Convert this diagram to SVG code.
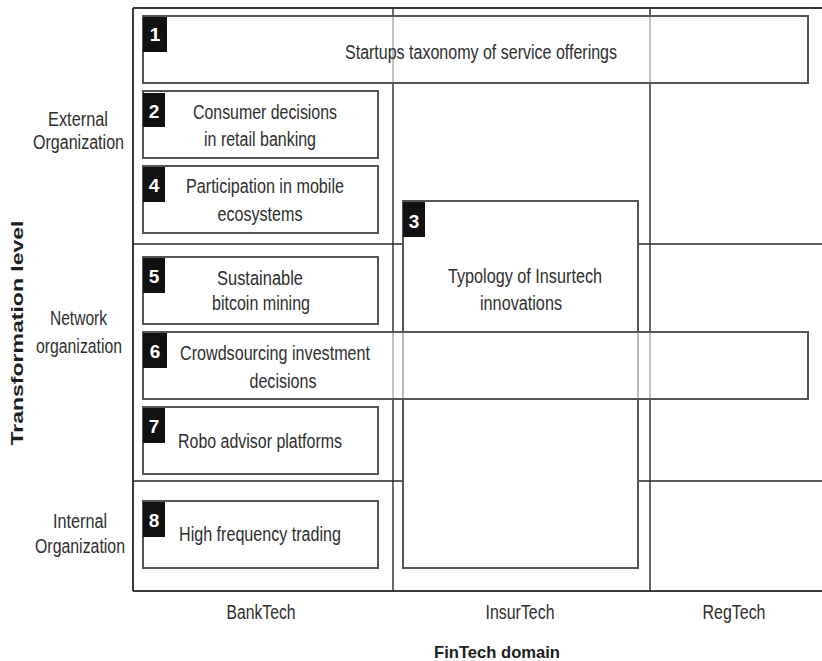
<svg xmlns="http://www.w3.org/2000/svg" width="822" height="661" viewBox="0 0 822 661">
  <style>
    .grid { fill: none; stroke: #2a2a2a; stroke-width: 1.4; }
    .frame { fill: none; stroke: #3a3a3a; stroke-width: 2; }
    .box { fill: #ffffff; fill-opacity: 0.6; stroke: #555555; stroke-width: 2; }
    .solid { fill-opacity: 1; }
    .tag { fill: #111111; }
    .num { font-family: "Liberation Sans Narrow", "Liberation Sans", Arial, sans-serif; font-weight: bold; font-size: 19px; fill: #ffffff; text-anchor: middle; }
    .t { font-family: "Liberation Sans Narrow", "Liberation Sans", Arial, sans-serif; font-size: 20px; fill: #2e2e2e; text-anchor: middle; }
    .axis { font-family: "Liberation Sans", Arial, sans-serif; font-weight: bold; font-size: 17px; fill: #1e1e1e; text-anchor: middle; }
  </style>

  <rect x="0" y="0" width="822" height="661" fill="#ffffff"/>

  <!-- matrix grid -->
  <g id="grid">
    <path class="frame" d="M133,8 H823 M133,8 V591 M133,591 H823"/>
    <path class="grid" d="M393,8 V591 M650,8 V591 M133,244 H823 M133,481 H823"/>
  </g>

  <!-- row labels -->
  <g id="row-labels">
    <text class="t" x="78" y="126" textLength="60" lengthAdjust="spacingAndGlyphs">External</text>
    <text class="t" x="78.5" y="149" textLength="91" lengthAdjust="spacingAndGlyphs">Organization</text>
    <text class="t" x="78.5" y="325" textLength="57" lengthAdjust="spacingAndGlyphs">Network</text>
    <text class="t" x="79" y="353" textLength="86" lengthAdjust="spacingAndGlyphs">organization</text>
    <text class="t" x="80" y="528" textLength="54" lengthAdjust="spacingAndGlyphs">Internal</text>
    <text class="t" x="80" y="553" textLength="90" lengthAdjust="spacingAndGlyphs">Organization</text>
    <text class="axis" transform="translate(23,333) rotate(-90)" textLength="225" lengthAdjust="spacingAndGlyphs">Transformation level</text>
  </g>

  <!-- column labels -->
  <g id="col-labels">
    <text class="t" x="261" y="619" textLength="69" lengthAdjust="spacingAndGlyphs">BankTech</text>
    <text class="t" x="520" y="619" textLength="69" lengthAdjust="spacingAndGlyphs">InsurTech</text>
    <text class="t" x="734" y="619" textLength="63" lengthAdjust="spacingAndGlyphs">RegTech</text>
    <text class="axis" x="497" y="658" textLength="126" lengthAdjust="spacingAndGlyphs">FinTech domain</text>
  </g>

  <!-- 3: spans BankTech rows, InsurTech column -->
  <g id="node-3">
    <rect class="box solid" x="403" y="201" width="235" height="367"/>
    <rect class="tag" x="403" y="202" width="22" height="35"/>
    <text class="num" x="414" y="228">3</text>
    <text class="t" x="525" y="283" textLength="154" lengthAdjust="spacingAndGlyphs">Typology of Insurtech</text>
    <text class="t" x="521" y="310" textLength="82" lengthAdjust="spacingAndGlyphs">innovations</text>
  </g>

  <g id="node-1">
    <rect class="box" x="143" y="16" width="665" height="67"/>
    <rect class="tag" x="143" y="17" width="24" height="35"/>
    <text class="num" x="155" y="41">1</text>
    <text class="t" x="481" y="59" textLength="272" lengthAdjust="spacingAndGlyphs">Startups taxonomy of service offerings</text>
  </g>

  <g id="node-2">
    <rect class="box" x="143" y="91" width="235" height="67"/>
    <rect class="tag" x="143" y="93" width="22" height="34"/>
    <text class="num" x="154" y="118">2</text>
    <text class="t" x="265" y="119" textLength="144" lengthAdjust="spacingAndGlyphs">Consumer decisions</text>
    <text class="t" x="260" y="146" textLength="112" lengthAdjust="spacingAndGlyphs">in retail banking</text>
  </g>

  <g id="node-4">
    <rect class="box" x="143" y="166" width="235" height="67"/>
    <rect class="tag" x="143" y="167" width="22" height="35"/>
    <text class="num" x="154" y="192">4</text>
    <text class="t" x="265" y="193" textLength="158" lengthAdjust="spacingAndGlyphs">Participation in mobile</text>
    <text class="t" x="260" y="221" textLength="85" lengthAdjust="spacingAndGlyphs">ecosystems</text>
  </g>

  <g id="node-5">
    <rect class="box" x="143" y="257" width="235" height="67"/>
    <rect class="tag" x="143" y="258" width="22" height="35"/>
    <text class="num" x="154" y="283">5</text>
    <text class="t" x="260" y="285" textLength="86" lengthAdjust="spacingAndGlyphs">Sustainable</text>
    <text class="t" x="261" y="310" textLength="98" lengthAdjust="spacingAndGlyphs">bitcoin mining</text>
  </g>

  <g id="node-6">
    <rect class="box" x="143" y="332" width="665" height="67"/>
    <rect class="tag" x="143" y="333" width="24" height="35"/>
    <text class="num" x="155" y="358">6</text>
    <text class="t" x="275" y="360" textLength="190" lengthAdjust="spacingAndGlyphs">Crowdsourcing investment</text>
    <text class="t" x="283" y="388" textLength="67" lengthAdjust="spacingAndGlyphs">decisions</text>
  </g>

  <g id="node-7">
    <rect class="box" x="143" y="407" width="235" height="67"/>
    <rect class="tag" x="143" y="408" width="22" height="35"/>
    <text class="num" x="154" y="433">7</text>
    <text class="t" x="260" y="448" textLength="164" lengthAdjust="spacingAndGlyphs">Robo advisor platforms</text>
  </g>

  <g id="node-8">
    <rect class="box" x="143" y="501" width="235" height="67"/>
    <rect class="tag" x="143" y="502" width="22" height="35"/>
    <text class="num" x="154" y="527">8</text>
    <text class="t" x="260" y="541" textLength="162" lengthAdjust="spacingAndGlyphs">High frequency trading</text>
  </g>
</svg>
